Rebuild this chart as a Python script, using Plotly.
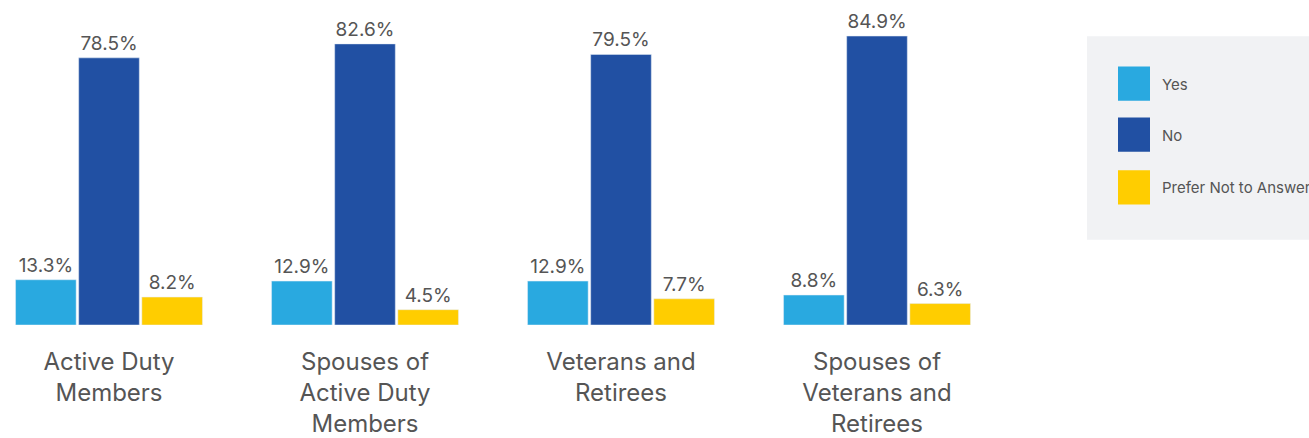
import plotly.graph_objects as go

categories = ["Active Duty<br>Members", "Spouses of<br>Active Duty<br>Members",
              "Veterans and<br>Retirees", "Spouses of<br>Veterans and<br>Retirees"]
series_names = ["Yes", "No", "Prefer Not to Answer"]
yes_vals = [13.3, 12.9, 12.9, 8.8]
no_vals = [78.5, 82.6, 79.5, 84.9]
prefer_vals = [8.2, 4.5, 7.7, 6.3]
colors = ["#29A9E0", "#2150A3", "#FFCD00"]

W, H = 1309, 438
BASE = 332
ML, MR, MT = 0, 309, 0
MB = H - BASE
PW, PH = W - ML - MR, H - MT - MB
FONT = "Inter, Roboto, sans-serif"
TXT = "#555555"

fig = go.Figure()
for name, vals, col in zip(series_names, [yes_vals, no_vals, prefer_vals], colors):
    fig.add_trace(go.Bar(
        name=name, x=categories, y=vals, marker_color=col,
        text=[f"{v:.1f}%" for v in vals], textposition="outside",
        textfont=dict(size=19, color=TXT, family=FONT), cliponaxis=False,
    ))

def px_x(px):
    return (px - ML) / PW

def px_y(py):
    return (BASE - py) / PH

shapes = [dict(type="rect", xref="paper", yref="paper",
               x0=px_x(1087), x1=px_x(1320), y0=px_y(245), y1=px_y(37),
               fillcolor="#F1F2F4", line_width=0, layer="below")]
annotations = []
sw_tops = [68, 120, 174]
for name, col, top in zip(series_names, colors, sw_tops):
    shapes.append(dict(type="rect", xref="paper", yref="paper",
                       x0=px_x(1118), x1=px_x(1150), y0=px_y(top + 35), y1=px_y(top),
                       fillcolor=col, line_width=0))
    annotations.append(dict(xref="paper", yref="paper", x=px_x(1160), y=px_y(top + 18),
                            text=name, showarrow=False, xanchor="left", yanchor="middle",
                            font=dict(size=15, color=TXT, family=FONT)))

x_start = -109 / 256.0
fig.update_layout(
    width=W, height=H, margin=dict(l=ML, r=MR, t=MT, b=MB),
    paper_bgcolor="white", plot_bgcolor="white",
    barmode="group", bargap=0.26, bargroupgap=0.04,
    showlegend=False, shapes=shapes, annotations=annotations,
    xaxis=dict(range=[x_start, x_start + PW / 256.0], showgrid=False,
               zeroline=False, showline=False, ticks="", ticklabelstandoff=20,
               tickfont=dict(size=24, color=TXT, family=FONT)),
    yaxis=dict(range=[0, 95.5], visible=False),
)
post = ("document.documentElement.style.margin='0';document.body.style.margin='0';"
        "document.body.style.overflow='hidden';document.documentElement.style.overflow='hidden';"
        "var d=document.getElementById('{plot_id}');d.style.position='fixed';"
        "d.style.top='0px';d.style.left='0px';")
fig.write_html("out.html", config={"displayModeBar": False}, post_script=post)
